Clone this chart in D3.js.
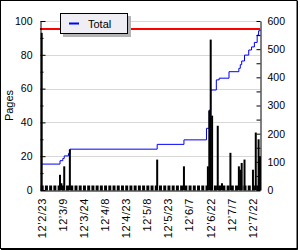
<!DOCTYPE html>
<html>
<head>
<meta charset="utf-8">
<script src="https://cdn.jsdelivr.net/npm/d3@7"></script>
<style>
  body { margin: 0; background: #fff; }
  svg text { font-family: "Liberation Sans", Arial, sans-serif; }
</style>
</head>
<body>
<div id="chart"></div>
<script>
// daily page counts (bars, left axis)
const barDates = ["2012-02-23", "2012-03-07", "2012-03-08", "2012-03-10", "2012-03-14",
  "2012-05-15", "2012-06-03", "2012-06-20", "2012-06-21", "2012-06-22", "2012-06-23",
  "2012-06-27", "2012-06-30", "2012-07-06", "2012-07-12", "2012-07-13", "2012-07-14",
  "2012-07-16", "2012-07-22", "2012-07-24", "2012-07-26", "2012-07-27"];
const barPages = [93, 9, 4, 14, 24, 18, 14, 14, 47, 89, 44, 38, 4, 22, 14, 12, 16, 18, 12, 34, 30, 20];

// running total (blue line, right axis)
const totalDates = ["2012-02-23", "2012-03-07", "2012-03-09", "2012-03-10", "2012-03-13",
  "2012-03-14", "2012-05-15", "2012-06-03", "2012-06-19", "2012-06-21", "2012-06-22",
  "2012-06-26", "2012-06-28", "2012-07-05", "2012-07-12", "2012-07-13", "2012-07-14",
  "2012-07-16", "2012-07-19", "2012-07-21", "2012-07-23", "2012-07-25", "2012-07-26", "2012-07-27"];
const totalValues = [92, 104, 112, 121, 130, 145, 162, 178, 219, 284, 355, 391, 397, 420,
  432, 445, 458, 479, 497, 508, 524, 550, 565, 570];
const totalMax = 572;

const labelDates = ["2012-02-23", "2012-03-09", "2012-03-24", "2012-04-08", "2012-04-23",
  "2012-05-08", "2012-05-23", "2012-06-07", "2012-06-22", "2012-07-07", "2012-07-22"];
const leftTicks = [0, 20, 40, 60, 80, 100];
const leftMinor = [10, 30, 50, 70, 90];
const rightTicks = [0, 100, 200, 300, 400, 500, 600];
const rightMinor = [50, 150, 250, 350, 450, 550];

const width = 300, height = 250;
const plotL = 40, plotR = 260, plotT = 21, plotB = 190;
const parse = d3.utcParse("%Y-%m-%d");
const fmt = d3.utcFormat("%y\u2019%-m/%-d");
const DAY = 864e5;

const start = parse("2012-02-23");
const x = d3.scaleUtc()
    .domain([new Date(+start - 1.2 * DAY), parse("2012-07-27")])
    .range([plotL, plotR]);
const y = d3.scaleLinear().domain([0, 100]).range([plotB, plotT]);
const y2 = d3.scaleLinear().domain([0, 600]).range([plotB, plotT]);

const svg = d3.select("#chart").append("svg")
    .attr("width", width).attr("height", height);

// frame
svg.append("rect")
    .attr("x", 0.5).attr("y", 0.5)
    .attr("width", 296.5).attr("height", 248)
    .attr("fill", "#fff").attr("stroke", "#000");
svg.append("path")
    .attr("d", "M297.5,1V249.5H1")
    .attr("fill", "none").attr("stroke", "#000");

// grid
svg.append("g").selectAll("line")
    .data(leftTicks.filter(d => d > 0))
    .enter().append("line")
    .attr("x1", plotL).attr("x2", plotR)
    .attr("y1", d => Math.round(y(d)) + 0.5).attr("y2", d => Math.round(y(d)) + 0.5)
    .attr("stroke", "#d8d8d8");

// blue running total
const line = d3.line()
    .x((d, i) => x(parse(totalDates[i])))
    .y(d => y2(d))
    .curve(d3.curveStepAfter);
svg.append("path")
    .datum(totalValues)
    .attr("d", line)
    .attr("fill", "none")
    .attr("stroke", "#0000ff")
    .attr("stroke-width", 1);

// bars
svg.append("g").selectAll("rect")
    .data(barPages)
    .enter().append("rect")
    .attr("x", (d, i) => x(parse(barDates[i])) - 1)
    .attr("width", 2)
    .attr("y", d => y(d))
    .attr("height", d => plotB - y(d))
    .attr("fill", "#000");

// red max line
svg.append("line")
    .attr("x1", plotL).attr("x2", plotR)
    .attr("y1", y2(totalMax)).attr("y2", y2(totalMax))
    .attr("stroke", "#ff0000")
    .attr("stroke-width", 2);

// axes
const axisStyle = g => {
    g.select(".domain").attr("stroke", "#000");
    g.selectAll(".tick line").attr("stroke", "#000");
    g.selectAll("text").attr("font-size", 10.5).attr("fill", "#000")
        .attr("font-family", "'Liberation Sans', Arial, sans-serif");
};

svg.append("g")
    .attr("transform", `translate(${plotL + 0.5},0)`)
    .call(d3.axisLeft(y).tickValues(leftTicks).tickSize(-5).tickSizeOuter(0).tickPadding(8))
    .call(axisStyle);
svg.append("g")
    .attr("transform", `translate(${plotL + 0.5},0)`)
    .call(d3.axisLeft(y).tickValues(leftMinor).tickSize(-3).tickSizeOuter(0).tickFormat(""))
    .call(g => g.select(".domain").remove())
    .call(axisStyle);

svg.append("g")
    .attr("transform", `translate(${plotR + 0.5},0)`)
    .call(d3.axisRight(y2).tickValues(rightTicks).tickSize(-4).tickSizeOuter(0).tickPadding(7))
    .call(axisStyle);
svg.append("g")
    .attr("transform", `translate(${plotR + 0.5},0)`)
    .call(d3.axisRight(y2).tickValues(rightMinor).tickSize(-4).tickSizeOuter(0).tickFormat(""))
    .call(g => g.select(".domain").remove())
    .call(axisStyle);

// bottom axis with dense 3-day ticks
const tickDays = d3.range(0, 156, 3).map(k => new Date(+start + k * DAY));
svg.append("g")
    .attr("transform", `translate(0,${plotB + 0.5})`)
    .call(d3.axisBottom(x).tickValues(tickDays).tickSize(-5).tickSizeOuter(0).tickFormat(""))
    .call(axisStyle)
    .call(g => g.selectAll(".tick line").attr("stroke-width", 3));

svg.append("g").selectAll("text")
    .data(labelDates)
    .enter().append("text")
    .attr("transform", d => `translate(${x(parse(d))},198) rotate(-90)`)
    .attr("dy", "0.35em")
    .attr("text-anchor", "end")
    .attr("font-size", 11)
    .attr("letter-spacing", 0.6)
    .text(d => fmt(parse(d)));

// y title
svg.append("text")
    .attr("transform", `translate(9,${(plotT + plotB) / 2}) rotate(-90)`)
    .attr("dy", "0.35em")
    .attr("text-anchor", "middle")
    .attr("font-size", 11)
    .text("Pages");

// legend
const lg = svg.append("g").attr("transform", "translate(60,13)");
lg.append("rect").attr("x", 3).attr("y", 3).attr("width", 68).attr("height", 21).attr("fill", "#b4b4b4");
lg.append("rect").attr("x", 0.5).attr("y", 0.5).attr("width", 67).attr("height", 20)
    .attr("fill", "#eeeef4").attr("stroke", "#000");
lg.append("line").attr("x1", 9).attr("x2", 19).attr("y1", 10.5).attr("y2", 10.5)
    .attr("stroke", "#0000ff").attr("stroke-width", 2);
lg.append("text").attr("x", 28).attr("y", 14.5).attr("font-size", 11).text("Total");
</script>
</body>
</html>
